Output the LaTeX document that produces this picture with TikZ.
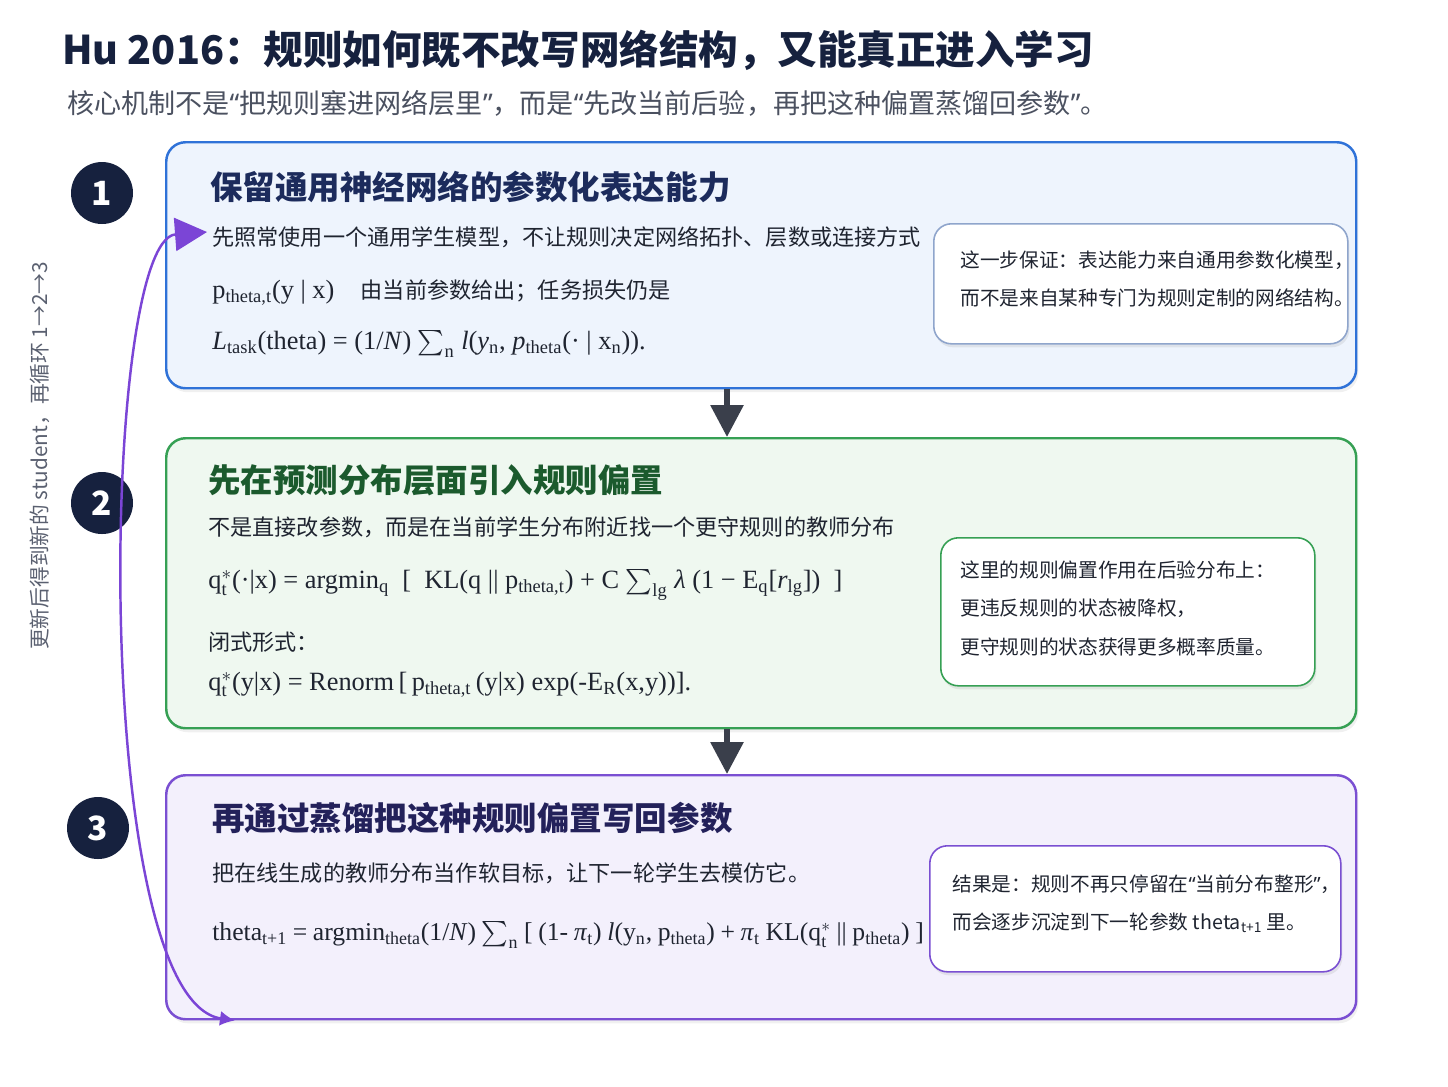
\documentclass[tikz,border=0pt]{standalone}
\usepackage{amsmath}
\usepackage{fontspec}
\setmainfont{Noto Sans CJK SC}
\newfontfamily\tmsfont{Liberation Serif}
\newfontfamily\latinfont{Noto Sans}
\usepackage{xcolor}
\usetikzlibrary{arrows.meta, shadows}

\newcommand{\lquo}{{\latinfont “}}
\newcommand{\rquo}{{\latinfont ”}}

\definecolor{navy}{HTML}{16213E}
\definecolor{subgray}{HTML}{4B5160}
\definecolor{sidegray}{HTML}{5A6070}
\definecolor{bodytext}{HTML}{1F2430}
\definecolor{blueline}{HTML}{2F72D8}
\definecolor{bluefill}{HTML}{EEF4FD}
\definecolor{bluenote}{HTML}{8FA5CC}
\definecolor{greenline}{HTML}{36A054}
\definecolor{greenfill}{HTML}{EFF8F0}
\definecolor{purpline}{HTML}{7A4FD2}
\definecolor{purpfill}{HTML}{F3F0FC}
\definecolor{bluetitle}{HTML}{1C2B5C}
\definecolor{greentitle}{HTML}{1B5A2D}
\definecolor{purptitle}{HTML}{23215A}
\definecolor{arrowgray}{HTML}{3A3F4B}
\definecolor{loopcol}{HTML}{7B45D6}

\tikzset{
  stagebox/.style 2 args={draw=#1, fill=#2, line width=1.4pt, rounded corners=11pt,
    anchor=north west, inner sep=0,
    drop shadow={shadow xshift=0.4mm, shadow yshift=-0.8mm, opacity=0.12}},
  notebox/.style={draw=#1, fill=white, line width=0.9pt, rounded corners=10pt,
    anchor=north west, inner sep=0,
    drop shadow={shadow xshift=0.3mm, shadow yshift=-0.7mm, opacity=0.15}},
  stepnum/.style={circle, fill=navy, text=white, minimum size=12.4mm, inner sep=0,
    font=\bfseries\fontsize{19}{19}\selectfont},
  boxtitle/.style={anchor=west, inner sep=0, font=\bfseries\fontsize{18.5}{22}\selectfont, text=#1},
  bodyline/.style={anchor=west, inner sep=0, text=bodytext, font=\fontsize{12.6}{15}\selectfont},
  formline/.style={anchor=west, inner sep=0, text=bodytext, font=\tmsfont\fontsize{15}{18}\selectfont},
  noteline/.style={anchor=north west, inner sep=0, text=bodytext, align=left,
    font=\fontsize{11.2}{22}\selectfont},
  flowarrow/.style={draw=arrowgray, line width=1.2mm, -{Triangle[length=6.4mm, width=6.4mm]}},
}

\begin{document}
\begin{tikzpicture}[x=0.2mm, y=-0.2mm]
    \useasboundingbox (0,0) rectangle (1448,1086);

    \node (title) [anchor=west, inner sep=0, text=navy, font=\bfseries\fontsize{22.5}{27}\selectfont] at (62,50) {Hu 2016：规则如何既不改写网络结构，又能真正进入学习};
    \node (subtitle) [anchor=west, inner sep=0, text=subgray, font=\fontsize{15.4}{18}\selectfont] at (67,103) {核心机制不是\lquo 把规则塞进网络层里\rquo ，而是\lquo 先改当前后验，再把这种偏置蒸馏回参数\rquo 。};

    \node (box1) [stagebox={blueline}{bluefill}, minimum width=238mm, minimum height=49.2mm] at (165,141) {};
    \node (box2) [stagebox={greenline}{greenfill}, minimum width=238mm, minimum height=58mm] at (165,437) {};
    \node (box3) [stagebox={purpline}{purpfill}, minimum width=238mm, minimum height=48.8mm] at (165,774) {};

    \node (num1) [stepnum] at (102,193) {1};
    \node (num2) [stepnum] at (102,503) {2};
    \node (num3) [stepnum] at (98,828) {3};

    \coordinate (ax) at (727,0);
    \draw[flowarrow] (box1.south -| ax) -- (box2.north -| ax);
    \draw[flowarrow] (box2.south -| ax) -- (box3.north -| ax);

    % step 1
    \node (b1title) [boxtitle=bluetitle] at (210,187) {保留通用神经网络的参数化表达能力};
    \node (b1text) [bodyline] at (212,237) {先照常使用一个通用学生模型，不让规则决定网络拓扑、层数或连接方式};
    \node (b1form1) [formline] at (212,293) {p$_{\text{theta,t}}$(y | x)\hspace{1em}{\rmfamily\fontsize{12.6}{15}\selectfont 由当前参数给出；任务损失仍是}};
    \node (b1form2) [formline] at (212,344) {\textit{L}$_{\text{task}}$(theta) = (1/\textit{N}) $\sum_{\text{n}}$ \textit{l}(\textit{y}$_{\text{n}}$, \textit{p}$_{\text{theta}}$(· | x$_{\text{n}}$)).};
    \node (note1) [notebox=bluenote, minimum width=82.8mm, minimum height=24mm] at (933,223) {};
    \node (note1txt) [noteline] at (960,250) {这一步保证：表达能力来自通用参数化模型，\\而不是来自某种专门为规则定制的网络结构。};

    % step 2
    \node (b2title) [boxtitle=greentitle] at (208,480) {先在预测分布层面引入规则偏置};
    \node (b2text) [bodyline] at (208,527) {不是直接改参数，而是在当前学生分布附近找一个更守规则的教师分布};
    \node (b2form1) [formline] at (208,585) {q$^{*}_{\text{t}}$(·|x) = argmin$_{\text{q}}$\ \ [\ \ KL(q || p$_{\text{theta,t}}$) + C $\sum_{\text{lg}}$ \textit{λ}\ (1 − E$_{\text{q}}$[\textit{r}$_{\text{lg}}$])\ \ ]};
    \node (b2text2) [bodyline] at (208,642) {闭式形式：};
    \node (b2form2) [formline] at (208,685) {q$^{*}_{\text{t}}$(y|x) = Renorm\,[\,p$_{\text{theta,t}}$\,(y|x) exp(-E$_{\text{R}}$(x,y))].};
    \node (note2) [notebox=greenline, minimum width=74.8mm, minimum height=29.6mm] at (940,537) {};
    \node (note2txt) [noteline] at (960,560) {这里的规则偏置作用在后验分布上：\\更违反规则的状态被降权，\\更守规则的状态获得更多概率质量。};

    % step 3
    \node (b3title) [boxtitle=purptitle] at (212,818) {再通过蒸馏把这种规则偏置写回参数};
    \node (b3text) [bodyline] at (212,873) {把在线生成的教师分布当作软目标，让下一轮学生去模仿它。};
    \node (b3form) [formline, font=\tmsfont\fontsize{14.6}{18}\selectfont] at (212,935) {\spaceskip=0.22em plus 0.05em\relax theta$_{\text{t+1}}$ = argmin$_{\text{theta}}$(1/\textit{N}) $\sum_{\text{n}}$ [ (1- \textit{π}$_{\text{t}}$) \textit{l}(y$_{\text{n}}$, p$_{\text{theta}}$) + \textit{π}$_{\text{t}}$ KL(q$^{*}_{\text{t}}$ || p$_{\text{theta}}$) ]};
    \node (note3) [notebox=purpline, minimum width=82.2mm, minimum height=25.2mm] at (929,845) {};
    \node (note3txt) [noteline] at (952,874) {结果是：规则不再只停留在\lquo 当前分布整形\rquo ，\\而会逐步沉淀到下一轮参数 theta$_{\text{t+1}}$ 里。};

    % loop back
    \node (looptext) [rotate=90, inner sep=0, text=sidegray, font=\fontsize{11.8}{14}\selectfont] at (40,456) {更新后得到新的 student，再循环 1→2→3};
    \coordinate (loopbot) at (box3.south -| 235,0);
    \coordinate (looptop) at (207,232);
    \draw[draw=loopcol, line width=1.4pt, {Latex[length=3mm, width=3mm]}-{Triangle[length=6.4mm, width=6.6mm]}]
        (loopbot) .. controls (90,1000) and (100,240) .. (looptop);

\end{tikzpicture}
\end{document}
